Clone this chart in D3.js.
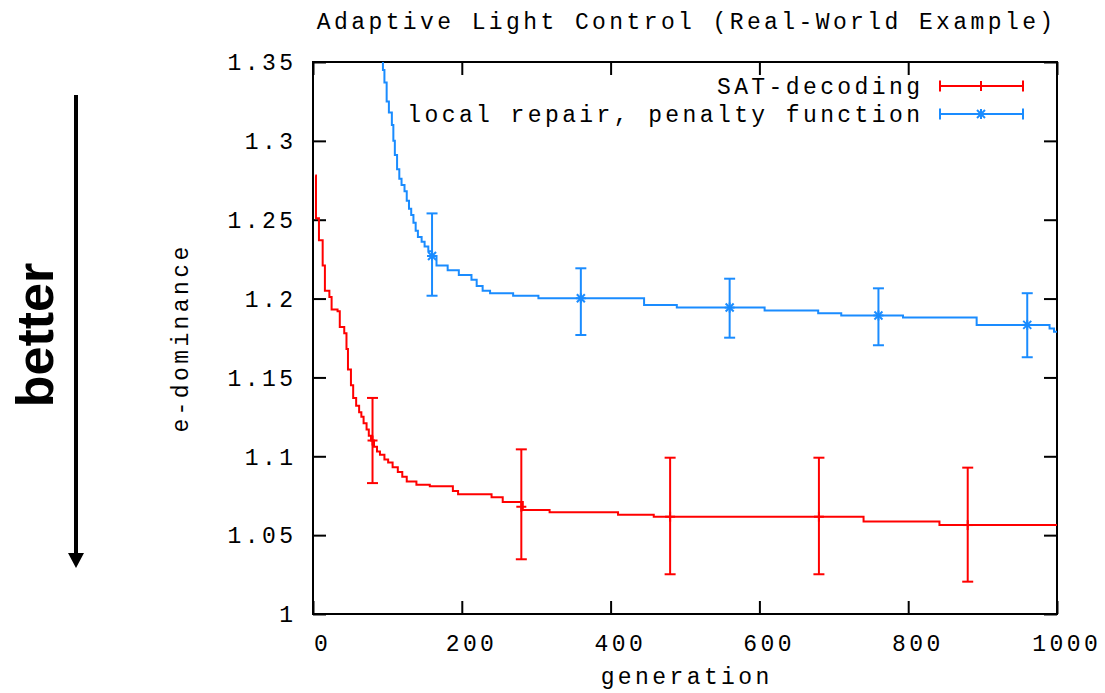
<!DOCTYPE html>
<html>
<head>
<meta charset="utf-8">
<script src="https://cdn.jsdelivr.net/npm/d3@7"></script>
<style>
  body { margin: 0; background: #fff; }
  .gp { font-family: "Liberation Mono", "DejaVu Sans Mono", monospace; font-size: 23px; letter-spacing: 3.4px; fill: #000; }
</style>
</head>
<body>
<div id="chart"></div>
<script>
// SAT-decoding (step line)
var satGen = [3, 4, 8, 13, 16, 22, 25, 33, 36, 42, 45, 47, 51, 54, 58, 62, 65, 68, 72, 75, 78, 82, 86, 90, 96, 101, 107, 114, 120, 126, 139, 157, 188, 195, 240, 255, 282, 318, 410, 458, 740, 842, 1000];
var satVal = [1.278, 1.251, 1.237, 1.221, 1.205, 1.201, 1.193, 1.192, 1.182, 1.178, 1.168, 1.155, 1.145, 1.137, 1.132, 1.128, 1.125, 1.121, 1.117, 1.113, 1.110, 1.106, 1.103, 1.101, 1.098, 1.096, 1.093, 1.090, 1.087, 1.084, 1.082, 1.081, 1.078, 1.076, 1.074, 1.071, 1.066, 1.0645, 1.063, 1.0617, 1.0586, 1.0564, 1.0564];

// local repair, penalty function (step line)
var penGen = [92, 94, 96, 99, 102, 106, 108, 110, 113, 116, 119, 123, 126, 129, 132, 135, 138, 141, 146, 150, 155, 160, 166, 181, 196, 213, 220, 228, 238, 269, 303, 445, 489, 607, 679, 710, 793, 892, 990, 996, 1000];
var penVal = [1.36, 1.345, 1.337, 1.325, 1.318, 1.310, 1.300, 1.291, 1.282, 1.276, 1.272, 1.268, 1.262, 1.257, 1.253, 1.248, 1.243, 1.239, 1.236, 1.233, 1.230, 1.227, 1.221, 1.218, 1.215, 1.212, 1.208, 1.205, 1.2034, 1.2018, 1.2002, 1.1959, 1.1943, 1.1925, 1.1907, 1.1893, 1.1880, 1.1833, 1.181, 1.179, 1.179];

// error bars
var satBarGen = [80, 280, 480, 680, 880];
var satBarMid = [1.110, 1.068, 1.0617, 1.0617, 1.0564];
var satBarLo = [1.083, 1.0347, 1.0252, 1.0252, 1.0205];
var satBarHi = [1.137, 1.1044, 1.0991, 1.0991, 1.0928];

var penBarGen = [160, 360, 560, 760, 960];
var penBarMid = [1.227, 1.2002, 1.1943, 1.1893, 1.1833];
var penBarLo = [1.2018, 1.1769, 1.1752, 1.1704, 1.1628];
var penBarHi = [1.254, 1.2192, 1.2126, 1.2065, 1.2034];

var xTicks = [0, 200, 400, 600, 800, 1000];
var yTicks = [1, 1.05, 1.1, 1.15, 1.2, 1.25, 1.3, 1.35];

var seriesNames = ["SAT-decoding", "local repair, penalty function"];
var red = "#ff0000", blue = "#1a8cff";

var svgWidth = 1105, svgHeight = 693;
var margin = { top: 62, right: 48, bottom: 79, left: 313 };
var width = svgWidth - margin.left - margin.right;
var height = svgHeight - margin.top - margin.bottom;

var svg = d3.select("#chart").append("svg")
  .attr("width", svgWidth)
  .attr("height", svgHeight);

var chart = svg.append("g")
  .attr("transform", "translate(" + margin.left + "," + margin.top + ")");

var x = d3.scaleLinear().domain([0, 1000]).range([0, width]);
var y = d3.scaleLinear().domain([1, 1.35]).range([height, 0]);

svg.append("defs").append("clipPath").attr("id", "clip")
  .append("rect").attr("width", width).attr("height", height);

// ticks, mirrored on all four sides
var tk = 13;
chart.append("g").attr("transform", "translate(0," + height + ")")
  .call(d3.axisBottom(x).tickValues(xTicks).tickSizeInner(-tk).tickSizeOuter(0).tickFormat(""));
chart.append("g")
  .call(d3.axisTop(x).tickValues(xTicks).tickSizeInner(-tk).tickSizeOuter(0).tickFormat(""));
chart.append("g")
  .call(d3.axisLeft(y).tickValues(yTicks).tickSizeInner(-tk).tickSizeOuter(0).tickFormat(""));
chart.append("g").attr("transform", "translate(" + width + ",0)")
  .call(d3.axisRight(y).tickValues(yTicks).tickSizeInner(-tk).tickSizeOuter(0).tickFormat(""));
chart.selectAll(".domain").remove();
chart.selectAll(".tick line").attr("stroke", "#000").attr("stroke-width", 2);

chart.append("rect")
  .attr("width", width).attr("height", height)
  .attr("fill", "none").attr("stroke", "#000").attr("stroke-width", 2);

// tick labels
chart.selectAll(".ylab").data(yTicks).enter().append("text")
  .attr("class", "gp")
  .attr("x", -20 + 3.4)
  .attr("y", function(d) { return y(d); })
  .attr("dy", "0.36em")
  .attr("text-anchor", "end")
  .text(function(d) { return d3.format("")(+d.toFixed(2)); });

chart.selectAll(".xlab").data(xTicks).enter().append("text")
  .attr("class", "gp")
  .attr("x", function(d) { return x(d) + 9.7; })
  .attr("y", height + 29)
  .attr("dy", "0.36em")
  .attr("text-anchor", "middle")
  .text(function(d) { return d; });

// lines
var line = d3.line()
  .x(function(d) { return x(d[0]); })
  .y(function(d) { return y(d[1]); })
  .curve(d3.curveStepAfter);

var plot = chart.append("g").attr("clip-path", "url(#clip)");

plot.append("path")
  .datum(d3.zip(penGen, penVal))
  .attr("d", line)
  .attr("fill", "none").attr("stroke", blue).attr("stroke-width", 2);

plot.append("path")
  .datum(d3.zip(satGen, satVal))
  .attr("d", line)
  .attr("fill", "none").attr("stroke", red).attr("stroke-width", 2);

var cap = 5.5;
function drawBars(gens, mids, los, his, color, marker) {
  var g = chart.append("g").attr("stroke", color).attr("stroke-width", 2).attr("fill", "none");
  gens.forEach(function(gen, i) {
    var cx = x(gen);
    g.append("line").attr("x1", cx).attr("x2", cx).attr("y1", y(los[i])).attr("y2", y(his[i]));
    g.append("line").attr("x1", cx - cap).attr("x2", cx + cap).attr("y1", y(los[i])).attr("y2", y(los[i]));
    g.append("line").attr("x1", cx - cap).attr("x2", cx + cap).attr("y1", y(his[i])).attr("y2", y(his[i]));
    marker(g, cx, y(mids[i]));
  });
}

function plusMark(g, cx, cy) {
  g.append("line").attr("x1", cx - 5).attr("x2", cx + 5).attr("y1", cy).attr("y2", cy);
  g.append("line").attr("x1", cx).attr("x2", cx).attr("y1", cy - 5).attr("y2", cy + 5);
}

function starMark(g, cx, cy) {
  plusMark(g, cx, cy);
  g.append("line").attr("x1", cx - 4).attr("x2", cx + 4).attr("y1", cy - 4).attr("y2", cy + 4);
  g.append("line").attr("x1", cx - 4).attr("x2", cx + 4).attr("y1", cy + 4).attr("y2", cy - 4);
}

drawBars(satBarGen, satBarMid, satBarLo, satBarHi, red, plusMark);
drawBars(penBarGen, penBarMid, penBarLo, penBarHi, blue, starMark);

// legend
var legY = [86, 114];
var legColors = [red, blue];
var legMarks = [plusMark, starMark];
seriesNames.forEach(function(name, i) {
  svg.append("text")
    .attr("class", "gp")
    .attr("x", 920 + 3.4)
    .attr("y", legY[i])
    .attr("dy", "0.36em")
    .attr("text-anchor", "end")
    .text(name);
  var g = svg.append("g").attr("stroke", legColors[i]).attr("stroke-width", 2);
  g.append("line").attr("x1", 940).attr("x2", 1023).attr("y1", legY[i]).attr("y2", legY[i]);
  g.append("line").attr("x1", 940).attr("x2", 940).attr("y1", legY[i] - cap).attr("y2", legY[i] + cap);
  g.append("line").attr("x1", 1023).attr("x2", 1023).attr("y1", legY[i] - cap).attr("y2", legY[i] + cap);
  legMarks[i](g, 981, legY[i]);
});

// title and axis labels
svg.append("text")
  .attr("class", "gp")
  .attr("x", margin.left + width / 2 + 1.7)
  .attr("y", 21)
  .attr("dy", "0.36em")
  .attr("text-anchor", "middle")
  .text("Adaptive Light Control (Real-World Example)");

svg.append("text")
  .attr("class", "gp")
  .attr("x", margin.left + width / 2 + 1.7)
  .attr("y", 676)
  .attr("dy", "0.36em")
  .attr("text-anchor", "middle")
  .text("generation");

svg.append("text")
  .attr("class", "gp")
  .attr("transform", "translate(180," + (margin.top + height / 2) + ") rotate(-90)")
  .attr("dy", "0.36em")
  .attr("text-anchor", "middle")
  .text("e-dominance");

// "better" arrow
svg.append("text")
  .attr("transform", "translate(53,335) rotate(-90)")
  .attr("text-anchor", "middle")
  .style("font-family", "Liberation Sans, Arial, sans-serif")
  .style("font-weight", "bold")
  .style("font-size", "52px")
  .text("better");

svg.append("line")
  .attr("x1", 76).attr("x2", 76).attr("y1", 95).attr("y2", 555)
  .attr("stroke", "#000").attr("stroke-width", 4);
svg.append("path")
  .attr("d", "M68,553 L84,553 L76,568 Z")
  .attr("fill", "#000");
</script>
</body>
</html>
